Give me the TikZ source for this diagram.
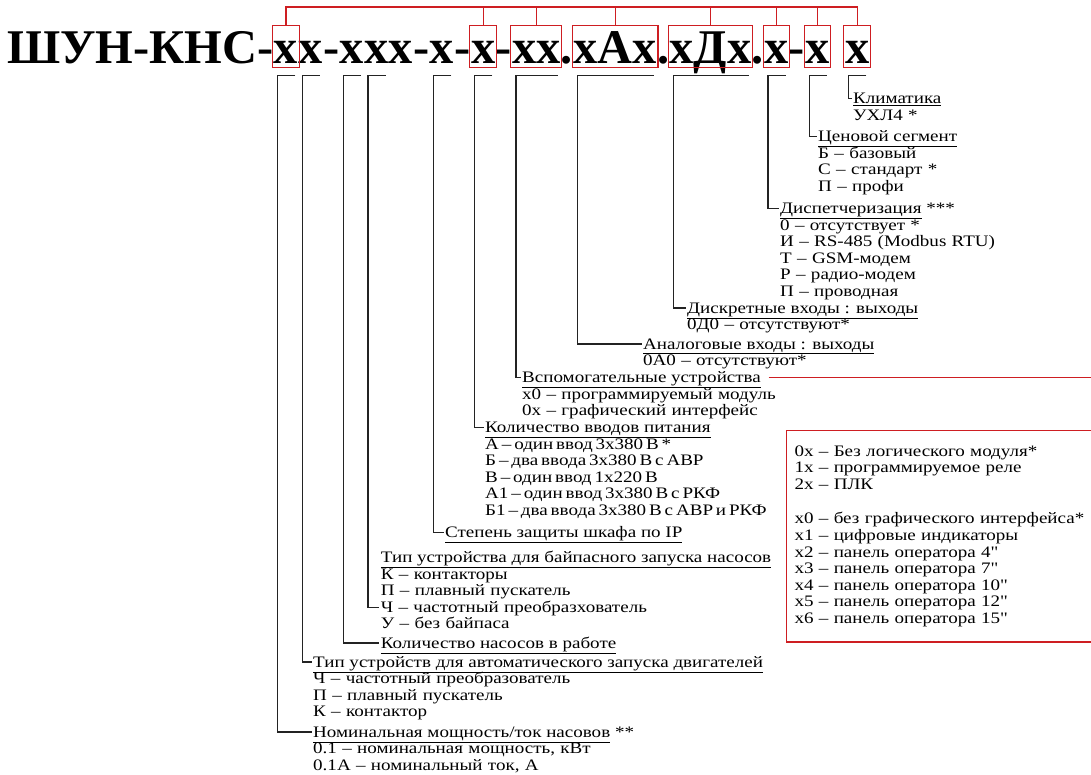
\documentclass[tikz,border=0pt]{standalone}
\usepackage{fontspec}
\setmainfont{Liberation Serif}[FakeStretch=1.19, Ligatures=TeXOff]
\newfontfamily\codefont{Liberation Serif}
\usetikzlibrary{positioning}
\definecolor{boxred}{RGB}{206,30,34}
\definecolor{brkc}{RGB}{35,35,35}
\newcommand{\bodyfs}{\fontsize{16}{16.6}\selectfont}
\newcommand{\titlefs}{\codefont\fontsize{48.4}{48}\selectfont\bfseries}

\begin{document}
\begin{tikzpicture}[x=1pt, y=-1pt, font=\bodyfs,
  ttl/.style={anchor=base west, inner xsep=0pt, inner ysep=0pt,
    text height=38pt, text depth=4pt, font=\titlefs},
  rbox/.style={draw=boxred, line width=1.1pt},
  rlink/.style={draw=boxred, line width=1.2pt},
  hd/.style={anchor=base west, inner xsep=1.5pt, inner ysep=0pt,
    text height=10pt, text depth=0pt},
  it/.style={anchor=base west, inner xsep=1.5pt, inner ysep=0pt,
    align=left, text width=420pt},
  brk/.style={draw=brkc, line width=1.3pt}]

\useasboundingbox (0,0) rectangle (1091,774);

\newcommand{\fieldbrk}[2]{%
  \draw[brk] ([xshift=-3pt,yshift=-8pt]#1.south east)
    -- ([xshift=4pt,yshift=-8pt]#1.south west) |- (#2);
}

% code line, one node per field
\node[ttl] (pre) at (7,63.3) {ШУН-КНС-};
\foreach \nm/\tx [remember=\nm as \prev (initially pre)] in
  {c1/x, c2/x, d1/-, c3/x, c4/x, c5/x, d2/-, c6/x, d3/-, c7/x, d4/-,
   c8/xx, d5/., c9/xAx, d6/., c10/xДx, d7/., c11/x, d8/-, c12/x}
  \node[ttl] (\nm) at (\prev.base east) {\tx};
\node[ttl] (c13) at ([xshift=15pt]c12.base east) {x};

% red frames and the comb above them
\foreach \c in {c1,c7,c8,c9,c10,c11,c12,c13}
  \draw[rbox] ([xshift=-1pt]\c.south west) rectangle ([xshift=1pt]\c.north east);
\coordinate (rtop) at (0,7);
\draw[rlink] (c1.north) |- (c13.north |- rtop) -- (c13.north);
\foreach \c in {c7,c8,c9,c10,c11,c12}
  \draw[rlink] (\c.north) -- (\c.north |- rtop);

% labels, baselines
\node[hd] (kl) at (851.5,103.5) {\underline{Климатика}};
\node[it] (kl-i) at ([yshift=-16.6pt]kl.base west) {УХЛ4 *};

\node[hd] (cs) at (816.5,141.5) {\underline{Ценовой сегмент}};
\node[it] (cs-i) at ([yshift=-16.6pt]cs.base west)
  {Б – базовый\\С – стандарт *\\П – профи};

\node[hd] (dsp) at (778.5,213.5) {\underline{Диспетчеризация} ***};
\node[it] (dsp-i) at ([yshift=-16.6pt]dsp.base west)
  {0 – отсутствует *\\И – RS-485 (Modbus RTU)\\Т – GSM-модем\\Р – радио-модем\\П – проводная};

\node[hd] (dio) at (685.5,313) {\underline{Дискретные входы : выходы}};
\node[it] (dio-i) at ([yshift=-16.6pt]dio.base west) {0Д0 – отсутствуют*};

\node[hd] (aio) at (641.5,349) {\underline{Аналоговые входы : выходы}};
\node[it] (aio-i) at ([yshift=-16.6pt]aio.base west) {0А0 – отсутствуют*};

\node[hd] (vsp) at (520.5,382.5) {\underline{Вспомогательные устройства}};
\node[it] (vsp-i) at ([yshift=-16.6pt]vsp.base west)
  {x0 – программируемый модуль\\0x – графический интерфейс};

\node[hd] (pw) at (483.5,432.5) {\underline{Количество вводов питания}};
% tighter spaces here, last line must stop before the box
\node[it] (pw-i) at ([yshift=-16.6pt]pw.base west)
  {\spaceskip=2.9pt А – один ввод 3x380 В *\\Б – два ввода 3x380 В с АВР\\В – один ввод 1x220 В\\А1 – один ввод 3x380 В с РКФ\\Б1 – два ввода 3x380 В с АВР и РКФ};

\node[hd] (ip) at (443.5,537.7) {\underline{Степень защиты шкафа по IP}};

\node[hd] (byp) at (379.2,562.5) {\underline{Тип устройства для байпасного запуска насосов}};
\node[it] (byp-i) at ([yshift=-16.6pt]byp.base west)
  {К – контакторы\\П – плавный пускатель\\Ч – частотный преобразхователь\\У – без байпаса};
\coordinate (byp-ch) at ([yshift=-28.2pt]byp-i.base west);

\node[hd] (npm) at (379.2,648) {\underline{Количество насосов в работе}};

\node[hd] (drv) at (311.5,667) {\underline{Тип устройств для автоматического запуска двигателей}};
\node[it] (drv-i) at ([yshift=-16.6pt]drv.base west)
  {Ч – частотный преобразователь\\П – плавный пускатель\\К – контактор};

\node[hd] (pn) at (311.5,737) {\underline{Номинальная мощность/ток насовов} **};
\node[it] (pn-i) at ([yshift=-16.6pt]pn.base west)
  {0.1 – номинальная мощность, кВт\\0.1А – номинальный ток, А};

% option list, cut by the right edge
\node[draw=boxred, line width=1.1pt, anchor=north west, inner xsep=8pt,
  inner ysep=15.2pt, text width=320pt, align=left] (opts) at (786,429.6)
  {0x – Без логического модуля*\\1x – программируемое реле\\2x – ПЛК\\[18pt]x0 – без графического интерфейса*\\x1 – цифровые индикаторы\\x2 – панель оператора 4"\\x3 – панель оператора 7"\\x4 – панель оператора 10"\\x5 – панель оператора 12"\\x6 – панель оператора 15"};
\coordinate (rside) at (1150,0);
\draw[rlink, line width=1.5pt] ([xshift=6pt]vsp.east) -- (vsp.east -| rside) |- (opts.east);

% brackets under the fields
\fieldbrk{c1}{pn.west}
\fieldbrk{c2}{drv.west}
\fieldbrk{c3}{npm.west}
\fieldbrk{c4}{byp-ch}
\fieldbrk{c6}{ip.west}
\fieldbrk{c7}{pw.west}
\fieldbrk{c8}{vsp.west}
\fieldbrk{c9}{aio.west}
\fieldbrk{c10}{dio.west}
\fieldbrk{c11}{dsp.west}
\fieldbrk{c12}{cs.west}
\fieldbrk{c13}{kl.west}
\end{tikzpicture}
\end{document}
